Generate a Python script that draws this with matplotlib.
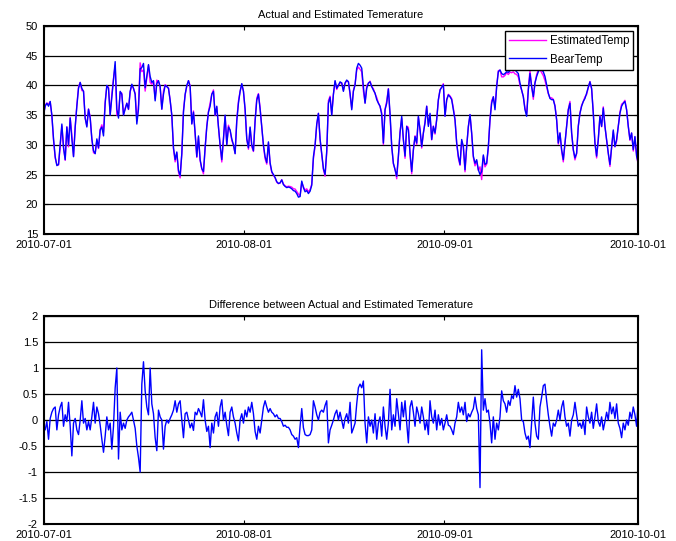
import numpy as np
import matplotlib
matplotlib.use("Agg")
import matplotlib.pyplot as plt
import matplotlib.dates as mdates
from matplotlib.ticker import FuncFormatter

# samples every ~6.18 hours from 2010-07-01
start = np.datetime64("2010-07-01T00:00")
sample_minutes = 371

bear_temp = [
    35, 36.5, 37, 36.5, 37.3, 35, 31, 28, 26.5, 26.7,
    30, 33.5, 29.5, 27.5, 33, 30, 34.5, 31, 28, 33,
    36.5, 39.5, 40.5, 39.5, 39, 34.5, 33, 36, 34.5, 31,
    29, 28.5, 31, 29.5, 32.5, 33, 31.5, 37, 40, 39.5,
    35, 38, 41, 44, 36, 34.5, 39, 38.5, 35, 36,
    37, 36, 39, 40.2, 39.5, 38.5, 33.5, 36, 42.8, 43,
    43.7, 39.6, 41.5, 43.5, 41.5, 40.5, 40.8, 37.4, 40.3, 40.8,
    39.8, 36, 38.5, 40, 39.8, 39.5, 37.5, 35, 29.5, 27.5,
    28.8, 25.7, 24.8, 28.5, 35.5, 38.5, 40, 40.8, 39.8, 33.5,
    35.5, 32, 28, 31.5, 27.5, 26, 25.5, 29.5, 33, 35.5,
    36.5, 38.5, 39, 35, 36.5, 33, 30, 27.5, 31, 35,
    30, 33, 32.5, 31, 30, 28.5, 34, 37, 39, 40.3,
    39, 36, 31, 29.5, 33, 30, 29, 34, 37.5, 38.5,
    36, 33, 30, 28, 27, 30.5, 27, 25.5, 25, 24.5,
    23.8, 23.5, 23.6, 24.1, 23.3, 23, 22.8, 22.9, 22.8, 22.6,
    22.3, 22.2, 21.8, 21.2, 21.3, 23.9, 22.8, 22.1, 22.3, 21.8,
    22.2, 23.2, 28, 30, 33.5, 35.3, 31, 28.5, 26, 25,
    29, 37, 38, 35, 38.5, 40.8, 39.5, 40,
    40.6, 40.4, 39.0, 40.4, 40.9, 40.6, 38.7, 35.9, 39.0, 40.1,
    42.9, 43.7, 43.4, 42.9, 39.8, 37.0, 39.5, 40.4, 40.6, 39.8,
    39.2, 38.7, 37.6, 37.0, 36.5, 35.1, 30.3, 35.9, 37.0, 39.4,
    35.3, 29.7, 26.9, 25.8, 24.7, 28.1, 32.0, 34.8, 30.9, 28.1,
    33.1, 32.5, 28.6, 25.5, 29.2, 31.4, 30.3, 34.8, 32.5, 29.7,
    32.0, 33.7, 36.5, 33.1, 35.3, 30.9, 33.1, 32.0, 34.2, 37.6,
    39.2, 39.7, 40.1, 34.8, 37.6, 38.4, 38.1, 37.6, 35.9, 34.2,
    30.3, 28.1, 26.7, 30.9, 29.7, 25.8, 29.7, 33.1, 35.1, 32.0,
    28.1, 26.9, 27.5, 25.8, 25.0, 25.5, 28.3, 26.7, 26.9, 29.7,
    34.2, 37.0, 38.1, 35.9, 39.8, 42.3, 42.6, 42.0, 41.8, 42.0,
    42.3, 42.2, 42.5, 42.6, 42.7, 42.6, 42.3, 42.0, 40.4, 39.2,
    38.1, 35.9, 34.8, 39.2, 42.0, 39.8, 38.1, 40.4, 41.5, 42.3,
    42.9, 42.6, 42.3, 41.5, 40.1, 38.7, 37.8, 37.6, 37.6, 36.5,
    34.2, 30.3, 32.0, 29.2, 27.5, 30.3, 33.1, 35.9, 37.0, 32.0,
    29.2, 27.8, 28.6, 33.1, 35.3, 36.5, 37.3, 37.8, 38.7, 39.7,
    40.6, 39.5, 35.3, 30.3, 28.1, 30.9, 34.8, 33.1, 36.2, 33.1,
    30.9, 28.6, 26.7, 29.7, 32.5, 29.7, 30.9, 33.1, 35.3, 36.5,
    37.0, 37.3, 35.9, 33.1, 30.9, 32.0, 29.2, 31.4, 28.1, 26.9,
]

# actual minus estimated
temp_diff = [
    -0.12, -0.19, -0.03, -0.37, 0.03, 0.15, 0.22, 0.25, -0.19, 0.1,
    0.25, 0.34, -0.12, 0.1, -0.03, 0.34, -0.12, -0.69, -0.06, 0.03,
    -0.19, -0.28, 0.0, 0.37, -0.06, 0.03, -0.19, -0.03, -0.19, 0.06,
    0.34, -0.06, 0.25, 0.12, -0.1, -0.37, -0.62, -0.31, 0.06, -0.19,
    -0.06, -0.56, -0.12, 0.62, 1.0, -0.75, 0.15, -0.19, -0.06, -0.16,
    0.0, 0.06, 0.1, 0.15, 0.0, -0.16, -0.5, -0.72, -1.0, 0.69,
    1.12, 0.56, 0.25, 0.1, 1.0, 0.31, 0.12, -0.34, -0.59, 0.19,
    0.06, 0.0, -0.56, -0.12, 0.0, -0.06, 0.03, 0.1, 0.19, 0.37,
    0.15, 0.31, 0.37, 0.0, -0.34, 0.12, 0.15, 0.0, -0.15, -0.06,
    -0.2, 0.15, 0.1, 0.22, 0.15, 0.06, 0.39, 0.0, -0.22, -0.12,
    -0.53, -0.06, -0.25, 0.06, 0.15, -0.12, 0.25, 0.39, 0.0, 0.15,
    -0.1, -0.3, 0.15, 0.25, 0.06, -0.06, -0.25, -0.4, 0.0, 0.12,
    -0.06, 0.19, 0.06, 0.25, 0.15, 0.34, 0.12, -0.22, -0.37, -0.12,
    -0.25, 0.0, 0.25, 0.37, 0.25, 0.15, 0.22, 0.15, 0.12, 0.06,
    0.1, 0.03, 0.03, -0.03, -0.12, -0.1, -0.14, -0.14, -0.19, -0.28,
    -0.31, -0.37, -0.34, -0.53, -0.12, 0.22, -0.15, -0.28, -0.3, -0.3,
    -0.28, -0.19, 0.37, 0.25, 0.1, 0.0, 0.15, 0.19, 0.15, 0.28,
    0.37, -0.44, -0.19, -0.1, 0.0, 0.12, 0.19, 0.0,
    0.15, 0.0, -0.16, 0.03, 0.12, -0.06, 0.34, -0.25, -0.16, -0.06,
    0.31, 0.62, 0.69, 0.62, 0.75, -0.06, -0.44, 0.06, -0.12, 0.0,
    -0.25, 0.12, -0.37, -0.06, 0.06, -0.31, 0.25, -0.12, -0.37, -0.06,
    0.59, -0.19, 0.1, -0.12, 0.41, 0.12, -0.19, 0.34, 0.06, 0.37,
    -0.06, -0.44, 0.25, 0.37, 0.15, -0.12, 0.25, 0.12, -0.06, 0.25,
    0.06, -0.19, 0.0, -0.28, 0.37, 0.06, -0.06, 0.19, -0.19, 0.1,
    -0.1, 0.03, -0.19, -0.06, 0.1, -0.1, -0.12, -0.19, -0.28, -0.06,
    0.06, 0.34, 0.15, 0.25, 0.1, 0.34, -0.03, 0.12, 0.06, 0.15,
    0.22, 0.44, 0.22, 0.1, -1.3, 1.35, 0.19, 0.41, 0.15, 0.19,
    -0.06, -0.44, 0.06, -0.37, -0.06, -0.19, 0.06, 0.56, 0.37, 0.31,
    0.15, 0.37, 0.28, 0.47, 0.41, 0.66, 0.44, 0.59, 0.41, 0.0,
    -0.03, -0.25, -0.37, -0.31, -0.53, -0.06, 0.44, -0.06, -0.31, -0.37,
    0.25, 0.44, 0.66, 0.69, 0.37, 0.1, -0.12, -0.31, -0.06, -0.12,
    0.0, 0.19, 0.0, 0.25, 0.37, 0.06, -0.12, -0.06, -0.31, 0.0,
    0.1, 0.34, 0.1, -0.12, -0.06, -0.16, 0.0, -0.28, 0.25, 0.06,
    -0.06, 0.15, -0.16, 0.06, 0.31, -0.03, -0.12, 0.06, -0.19, -0.03,
    0.15, 0.0, 0.34, 0.12, 0.25, 0.03, 0.31, -0.06, -0.16, -0.34,
    -0.06, -0.19, 0.0, -0.1, 0.15, 0.03, 0.25, 0.1, -0.12, 0.37,
]

tick_dates = ["2010-07-01", "2010-08-01", "2010-09-01", "2010-10-01"]

bear = np.array(bear_temp)
diff = np.array(temp_diff)
estimated = bear - diff
times = start + np.arange(len(bear)) * np.timedelta64(sample_minutes, "m")

plt.rcParams["font.family"] = ["Liberation Sans", "DejaVu Sans"]
plt.rcParams["font.size"] = 8

fig = plt.figure(figsize=(6.76, 5.41), dpi=100)
ax1 = fig.add_axes([0.0644, 0.5675, 0.880, 0.3845])
ax2 = fig.add_axes([0.0644, 0.0314, 0.880, 0.3845])

ax1.plot(times, estimated, color="#ff00ff", lw=1.0, label="EstimatedTemp")
ax1.plot(times, bear, color="#0000ff", lw=1.0, label="BearTemp")
ax2.plot(times, diff, color="#0000ff", lw=1.0)

ax1.set_ylim(15, 50)
ax1.set_yticks(np.arange(15, 51, 5))
ax2.set_ylim(-2, 2)
ax2.set_yticks(np.arange(-2, 2.01, 0.5))

ticks = [np.datetime64(d) for d in tick_dates]
for ax, title in ((ax1, "Actual and Estimated Temerature"),
                  (ax2, "Difference between Actual and Estimated Temerature")):
    ax.set_xlim(ticks[0], ticks[-1])
    ax.set_xticks(ticks)
    ax.xaxis.set_major_formatter(mdates.DateFormatter("%Y-%m-%d"))
    ax.yaxis.set_major_formatter(FuncFormatter(lambda v, _: f"{v:g}"))
    ax.grid(axis="y", color="black", lw=0.9)
    ax.tick_params(direction="in", length=3, width=0.8, top=True, right=True,
                   labelsize=8, pad=4, colors="black")
    for s in ax.spines.values():
        s.set_linewidth(1.5)
    ax.set_title(title, fontsize=8, pad=6)

leg = ax1.legend(loc="upper right", fontsize=8.3, fancybox=False, framealpha=1,
                 edgecolor="black", borderaxespad=0.45, handlelength=3.2,
                 handletextpad=0.35, borderpad=0.35, labelspacing=0.55)
leg.get_frame().set_linewidth(1.0)

fig.savefig("out.png", dpi=100)
